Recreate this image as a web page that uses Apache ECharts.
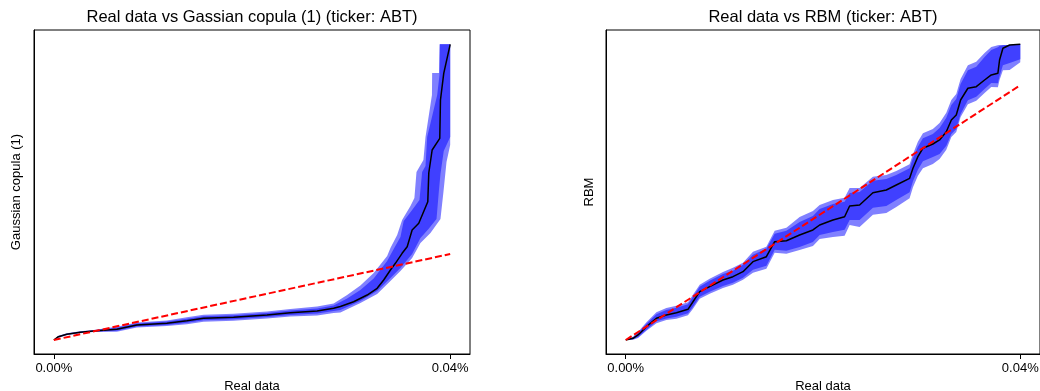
<!DOCTYPE html>
<html>
<head>
<meta charset="utf-8">
<script src="https://cdn.jsdelivr.net/npm/echarts@6/dist/echarts.min.js"></script>
<style>
html,body{margin:0;padding:0;background:#fff;}
#c{width:1040px;height:391px;}
</style>
</head>
<body>
<div id="c"></div>
<script>
// Units: basis points of return (1 = 0.01%)
const xTicks = [0, 4];

// ---- Left panel: Real data vs Gaussian copula (1)
const leftX = [0,0.046,0.131,0.266,0.400,0.636,0.838,1.141,1.343,1.511,1.814,2.152,2.387,2.657,2.824,2.892,3.026,3.162,3.263,3.329,3.397,3.447,3.515,3.566,3.616,3.683,3.774,3.784,3.818,3.895,3.902,3.935,4.000];
const leftMedian = [0,0.153,0.265,0.358,0.419,0.498,0.698,0.777,0.898,1.009,1.056,1.163,1.270,1.349,1.474,1.558,1.781,2.093,2.405,2.791,3.256,3.567,4.033,4.340,5.116,5.428,6.433,7.767,8.837,9.381,11.163,12.405,13.753];
const leftFlatX = [0,0.046,0.131,0.266,0.400,0.636,0.838,1.141,1.343,1.511,1.814,2.152,2.387,2.657,2.824];
const leftInnerUpX = leftFlatX.concat([2.960,3.094,3.228,3.364,3.430,3.498,3.531,3.616,3.690,3.717,3.751,3.768,3.869,3.892,3.895,4.000]);
const leftInnerUpY = [0,0.177,0.288,0.381,0.442,0.567,0.767,0.860,0.991,1.102,1.149,1.256,1.372,1.465,1.605,1.930,2.326,2.860,3.674,4.233,4.791,5.535,6.047,6.512,7.814,8.093,9.442,11.395,12.326,13.753,13.753];
const leftInnerLoX = leftFlatX.concat([2.892,3.094,3.263,3.397,3.498,3.616,3.700,3.781,3.862,3.885,3.902,3.935,4.000]);
const leftInnerLoY = [0,0.130,0.242,0.335,0.395,0.428,0.628,0.698,0.805,0.916,0.963,1.070,1.163,1.233,1.349,1.395,1.814,2.279,2.884,3.349,4.000,4.744,5.163,5.628,6.884,7.721,8.791,9.442];
const leftOuterUpX = leftFlatX.concat([2.960,3.094,3.228,3.364,3.397,3.465,3.515,3.599,3.639,3.660,3.730,3.751,3.816,3.818,3.888,3.895,4.000]);
const leftOuterUpY = [0,0.200,0.312,0.405,0.465,0.614,0.814,0.907,1.060,1.172,1.219,1.326,1.442,1.558,1.698,2.093,2.535,3.116,3.907,4.279,4.884,5.581,6.233,6.605,7.814,8.372,9.442,11.395,12.419,12.419,13.753,13.753];
const leftOuterLoX = leftFlatX.concat([2.892,3.094,3.263,3.397,3.498,3.616,3.700,3.801,3.902,3.932,3.963,4.000]);
const leftOuterLoY = [0,0.107,0.219,0.312,0.372,0.381,0.581,0.651,0.735,0.847,0.893,1.000,1.093,1.140,1.256,1.279,1.721,2.140,2.744,3.209,3.814,4.512,4.977,5.628,6.884,8.279,9.070];

// ---- Right panel: Real data vs RBM
const rightX = [0,0.074,0.125,0.210,0.311,0.412,0.514,0.631,0.682,0.750,0.851,0.986,1.087,1.189,1.290,1.426,1.510,1.629,1.763,1.898,1.966,2.101,2.219,2.270,2.371,2.506,2.642,2.743,2.878,2.912,2.962,3.013,3.114,3.182,3.250,3.301,3.351,3.395,3.469,3.554,3.638,3.706,3.773,3.790,3.824,3.892,4.000];
const rightMedian = [0,0.027,0.079,0.209,0.341,0.393,0.429,0.482,0.601,0.759,0.837,0.942,0.994,1.073,1.230,1.308,1.544,1.559,1.649,1.728,1.806,1.885,1.936,2.104,2.120,2.313,2.356,2.434,2.539,2.697,2.879,3.011,3.078,3.141,3.271,3.455,3.534,3.769,3.953,3.978,4.083,4.162,4.188,4.397,4.581,4.633,4.644];
const rightInnerUp = [0,0.043,0.110,0.256,0.404,0.472,0.508,0.561,0.680,0.838,0.931,1.036,1.088,1.183,1.340,1.434,1.670,1.716,1.853,1.948,2.057,2.136,2.172,2.308,2.324,2.501,2.529,2.591,2.696,2.854,3.036,3.168,3.235,3.329,3.491,3.691,3.785,4.020,4.236,4.292,4.444,4.555,4.596,4.617,4.628,4.633,4.644];
const rightInnerLo = [0,0.011,0.048,0.162,0.294,0.338,0.366,0.419,0.522,0.680,0.759,0.848,0.900,0.979,1.104,1.167,1.418,1.402,1.461,1.540,1.649,1.697,1.732,1.884,1.885,2.078,2.105,2.199,2.319,2.493,2.675,2.807,2.874,2.921,3.051,3.235,3.314,3.549,3.765,3.821,3.942,4.036,4.031,4.146,4.314,4.350,4.408];
const rightOuterUp = [0,0.051,0.126,0.280,0.435,0.503,0.539,0.592,0.711,0.869,0.963,1.068,1.135,1.214,1.387,1.465,1.717,1.763,1.932,2.026,2.120,2.199,2.234,2.387,2.387,2.564,2.592,2.654,2.759,2.917,3.115,3.247,3.314,3.408,3.569,3.769,3.864,4.099,4.314,4.371,4.507,4.602,4.628,4.633,4.633,4.633,4.644];
const rightOuterLo = [0,0.003,0.032,0.146,0.262,0.314,0.335,0.388,0.491,0.649,0.727,0.816,0.868,0.947,1.057,1.120,1.371,1.355,1.414,1.477,1.586,1.618,1.638,1.806,1.775,1.968,1.995,2.089,2.225,2.399,2.581,2.697,2.764,2.843,2.988,3.188,3.267,3.502,3.702,3.758,3.879,3.974,3.968,4.083,4.236,4.240,4.361];

const diagX = [0, 4];
const diagY = [0, 4];

const FONT = 'Liberation Sans';
const LIGHT = '#8080ff', DARK = '#4040ff';

function zip(xs, ys){ return xs.map((x,i)=>[x, ys[i]]); }

// band polygon between an upper and a lower curve, mapped through the axes
function bandSeries(idx, upper, lower, color){
  return {type:'custom', xAxisIndex:idx, yAxisIndex:idx, coordinateSystem:'cartesian2d',
    data:upper, silent:true, animation:false, clip:true,
    renderItem:function(params, api){
      if (params.dataIndex !== 0) return null;
      const pts = upper.map(p=>api.coord(p)).concat(lower.slice().reverse().map(p=>api.coord(p)));
      return {type:'polygon', shape:{points:pts}, style:{fill:color, stroke:null}};
    }};
}
function lineSeries(idx, xs, ys, style){
  return {type:'line', xAxisIndex:idx, yAxisIndex:idx, data:zip(xs,ys), showSymbol:false, symbol:'none',
    lineStyle:style, silent:true, animation:false};
}

function xAxisCfg(idx){
  return {gridIndex:idx, type:'value', min:-0.2, max:4.2, z:10,
    splitLine:{show:false},
    axisLine:{show:true, onZero:false, lineStyle:{color:'#000', width:1}},
    axisTick:{show:true, length:5, customValues:xTicks, lineStyle:{color:'#000'}},
    axisLabel:{show:true, customValues:xTicks, margin:8, fontFamily:FONT, fontSize:13, color:'#000',
      formatter:v=>(v/100).toFixed(2)+'%'},
    name:'Real data', nameLocation:'middle', nameGap:25,
    nameTextStyle:{fontFamily:FONT, fontSize:13, color:'#000'}};
}
function yAxisCfg(idx, min, max, name, gap){
  return {gridIndex:idx, type:'value', min:min, max:max, z:10,
    splitLine:{show:false},
    axisLine:{show:true, onZero:false, lineStyle:{color:'#000', width:1}},
    axisTick:{show:false}, axisLabel:{show:false},
    name:name, nameLocation:'middle', nameGap:gap, nameRotate:90,
    nameTextStyle:{fontFamily:FONT, fontSize:13, color:'#000'}};
}

const option = {
  animation:false,
  backgroundColor:'#fff',
  title:[
    {text:'Real data vs Gassian copula (1) (ticker: ABT)', left:252, top:9, padding:0, textAlign:'center',
     textStyle:{fontFamily:FONT, fontSize:16.5, fontWeight:'normal', color:'#000'}},
    {text:'Real data vs RBM (ticker: ABT)', left:823, top:9, padding:0, textAlign:'center',
     textStyle:{fontFamily:FONT, fontSize:16.5, fontWeight:'normal', color:'#000'}}
  ],
  grid:[
    {left:34, top:30, width:436, height:324, show:true, borderColor:'#000', borderWidth:1, backgroundColor:'#fff', outerBoundsMode:'none', containLabel:false},
    {left:606, top:30, width:434, height:324, show:true, borderColor:'#000', borderWidth:1, backgroundColor:'#fff', outerBoundsMode:'none', containLabel:false}
  ],
  xAxis:[xAxisCfg(0), xAxisCfg(1)],
  yAxis:[yAxisCfg(0, -0.651, 14.419, 'Gaussian copula (1)', 11), yAxisCfg(1, -0.22, 4.868, 'RBM', 10)],
  series:[
    bandSeries(0, zip(leftOuterUpX, leftOuterUpY), zip(leftOuterLoX, leftOuterLoY), LIGHT),
    bandSeries(0, zip(leftInnerUpX, leftInnerUpY), zip(leftInnerLoX, leftInnerLoY), DARK),
    lineSeries(0, leftX, leftMedian, {color:'#000', width:1.5}),
    lineSeries(0, diagX, diagY, {color:'#ff0000', width:2, type:[7,3]}),
    bandSeries(1, zip(rightX, rightOuterUp), zip(rightX, rightOuterLo), LIGHT),
    bandSeries(1, zip(rightX, rightInnerUp), zip(rightX, rightInnerLo), DARK),
    lineSeries(1, rightX, rightMedian, {color:'#000', width:1.5}),
    lineSeries(1, diagX, diagY, {color:'#ff0000', width:2, type:[7,3]})
  ]
};
const chart = echarts.init(document.getElementById('c'), null, {renderer:'canvas'});
chart.setOption(option);
</script>
</body>
</html>
